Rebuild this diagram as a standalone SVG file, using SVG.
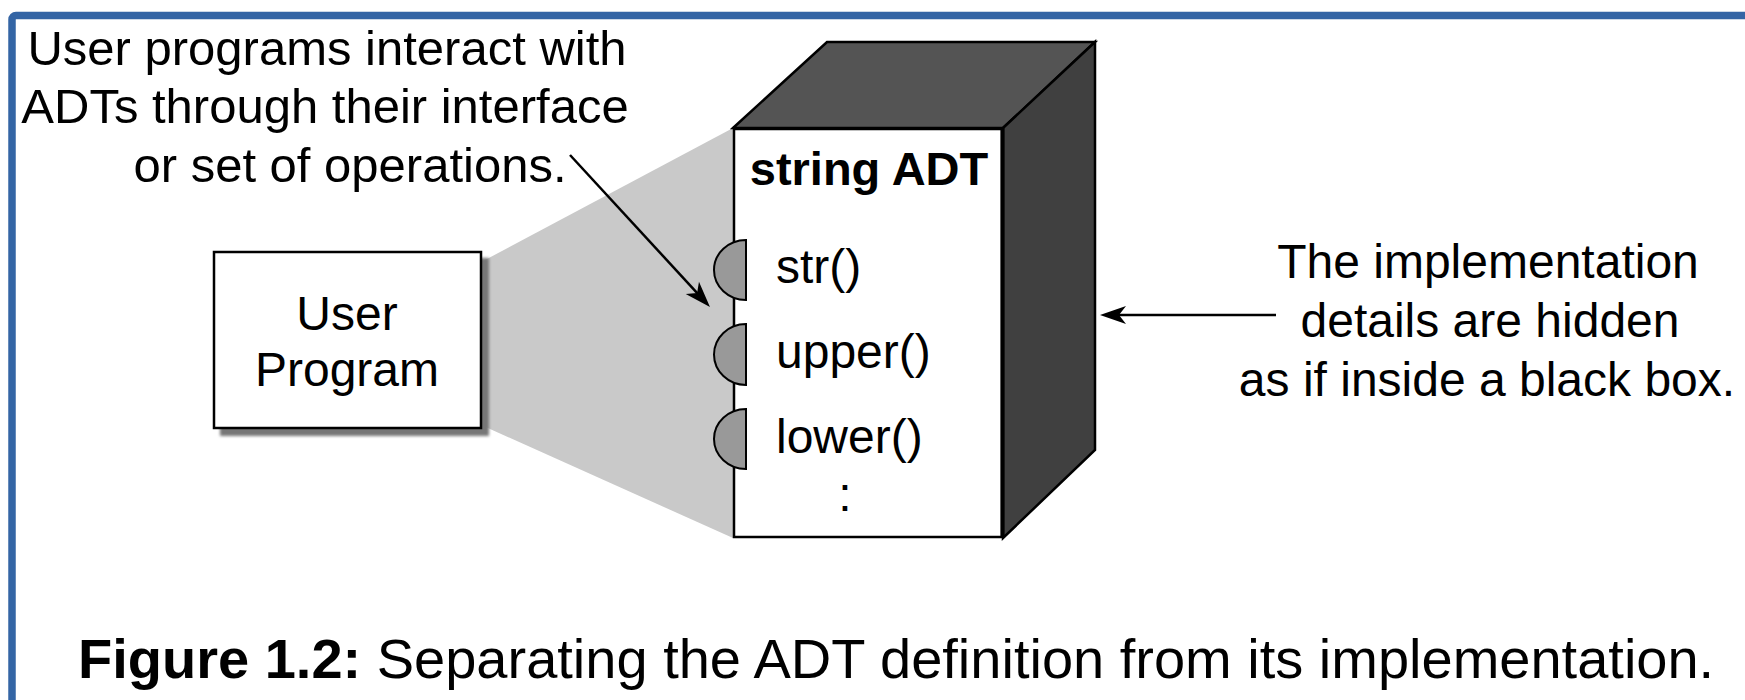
<svg xmlns="http://www.w3.org/2000/svg" width="1745" height="700" viewBox="0 0 1745 700">
  <defs>
    <style>
      .t { font-family: "Liberation Sans", Arial, Helvetica, sans-serif; fill: #000; }
      .b { font-weight: bold; }
      .edge { stroke: #000; stroke-width: 2.5; stroke-linejoin: miter; }
      .conn { stroke: #000; stroke-width: 2.5; fill: none; }
      .lolli { fill: #999; stroke: #000; stroke-width: 2; }
    </style>
    <marker id="ah" viewBox="-30 -11 32 22" refX="-10" refY="0" markerWidth="32" markerHeight="22" markerUnits="userSpaceOnUse" orient="auto">
      <path d="M0,0 L-26,-9 L-19,0 L-26,9 Z" fill="#000"/>
    </marker>
    <filter id="blur" x="-10%" y="-10%" width="120%" height="120%">
      <feGaussianBlur stdDeviation="1.5"/>
    </filter>
  </defs>

  <rect width="1745" height="700" fill="#fff"/>

  <g id="frame">
    <rect x="12" y="15.5" width="1800" height="800" rx="4" fill="none" stroke="#3465a5" stroke-width="7.5"/>
  </g>

  <g id="view-cone">
    <polygon points="470,268 733,128 733,538 470,420" fill="#c9c9c9"/>
  </g>

  <g id="user-program">
    <rect x="220" y="258" width="269" height="178" fill="#777" filter="url(#blur)"/>
    <rect x="214" y="252" width="267" height="176" fill="#fff" class="edge"/>
    <text class="t" x="347" y="330" font-size="48" text-anchor="middle">User</text>
    <text class="t" x="347" y="386" font-size="48" text-anchor="middle">Program</text>
  </g>

  <g id="string-adt">
    <polygon points="733,128 827,42 1095,42 1003,128" fill="#545454" class="edge"/>
    <polygon points="1003,128 1095,42 1095,450 1003,538" fill="#404040" class="edge"/>
    <rect x="734" y="129" width="268" height="408" fill="#fff" class="edge"/>
    <line x1="1002.5" y1="128" x2="1002.5" y2="538" stroke="#000" stroke-width="4"/>
    <text class="t b" x="869" y="185" font-size="47" text-anchor="middle">string ADT</text>
    <path class="lolli" d="M746,240 L746,300 A32,30 0 0 1 746,240 Z"/>
    <path class="lolli" d="M746,324 L746,385 A32,30.5 0 0 1 746,324 Z"/>
    <path class="lolli" d="M746,409 L746,469 A32,30 0 0 1 746,409 Z"/>
    <text class="t" x="776" y="283" font-size="48">str()</text>
    <text class="t" x="776" y="368" font-size="48">upper()</text>
    <text class="t" x="776" y="453" font-size="48">lower()</text>
    <text class="t" x="845" y="511" font-size="48" text-anchor="middle">:</text>
  </g>

  <g id="note-interface">
    <text class="t" x="327" y="65" font-size="49" text-anchor="middle">User programs interact with</text>
    <text class="t" x="325" y="123" font-size="49" text-anchor="middle">ADTs through their interface</text>
    <text class="t" x="350" y="182" font-size="49" text-anchor="middle">or set of operations.</text>
  </g>

  <g id="note-hidden">
    <text class="t" x="1488" y="278" font-size="48" text-anchor="middle">The implementation</text>
    <text class="t" x="1490" y="337" font-size="48" text-anchor="middle">details are hidden</text>
    <text class="t" x="1487" y="396" font-size="48" text-anchor="middle">as if inside a black box.</text>
  </g>

  <g id="connectors">
    <line class="conn" x1="570" y1="155" x2="703.2" y2="299.6" marker-end="url(#ah)"/>
    <line class="conn" x1="1276" y1="315" x2="1110" y2="315" marker-end="url(#ah)"/>
  </g>

  <g id="caption">
    <text class="t" x="78" y="678" font-size="56"><tspan class="b">Figure 1.2:</tspan> Separating the ADT definition from its implementation.</text>
  </g>
</svg>
